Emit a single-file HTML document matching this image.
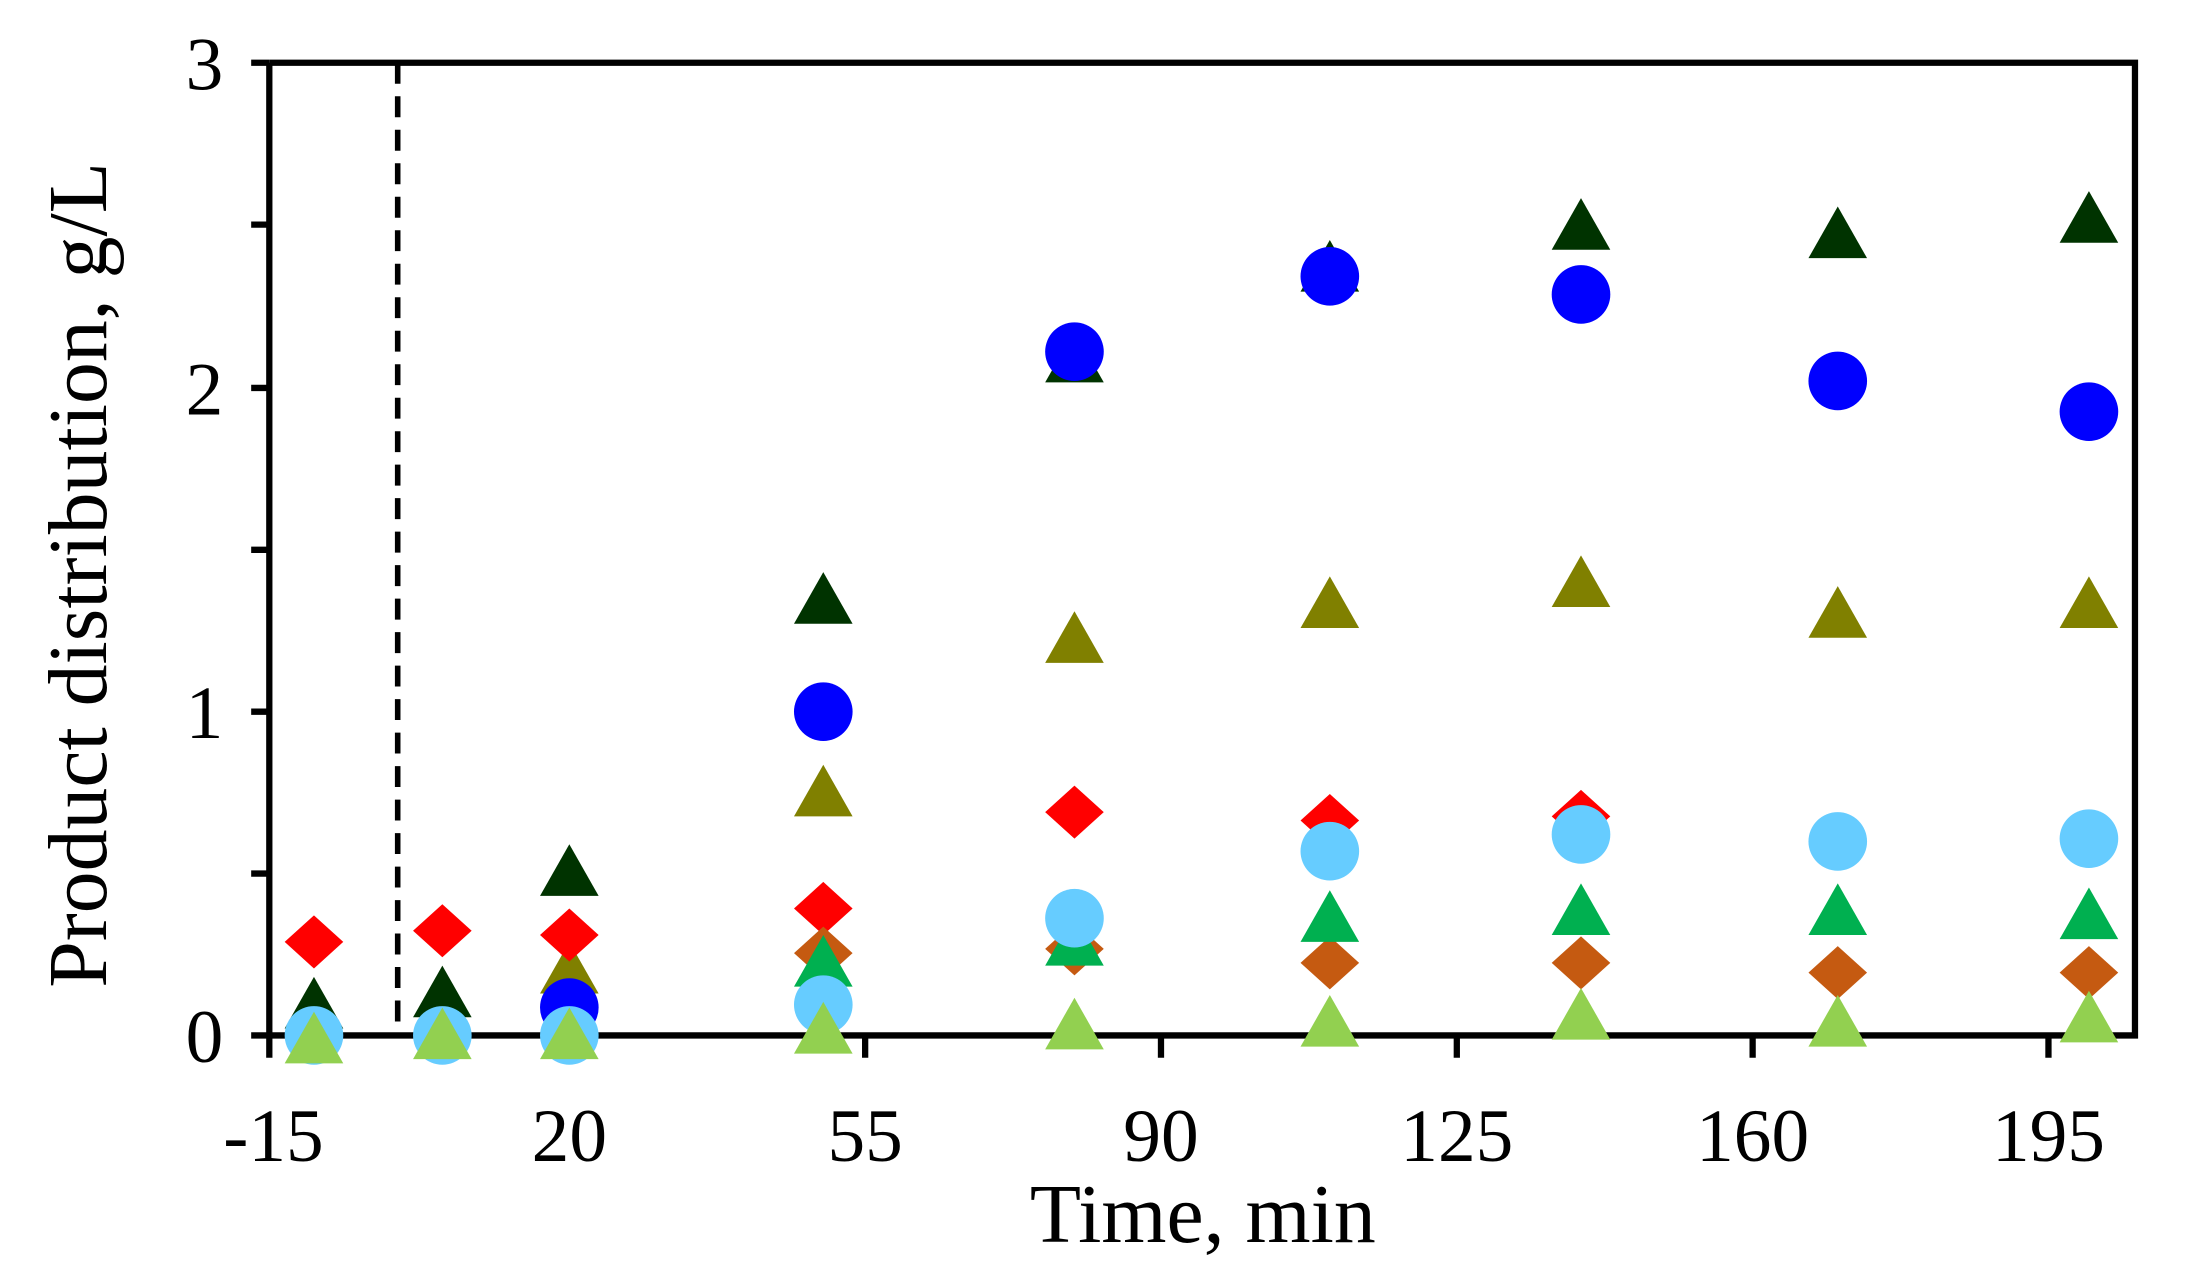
<!DOCTYPE html>
<html><head><meta charset="utf-8"><style>html,body{margin:0;padding:0;background:#fff}svg{display:block}</style></head>
<body>
<svg width="2188" height="1282" viewBox="0 0 1568 918.7" preserveAspectRatio="none" xmlns="http://www.w3.org/2000/svg">
<defs>
<path id="t" d="M0,-20 L21,17 L-21,17Z"/>
<path id="d" d="M0,-19 L21,0 L0,19 L-21,0Z"/>
<circle id="c" cx="0" cy="0" r="21"/>
</defs>
<rect width="1568" height="918.7" fill="#fff"/>
<g stroke="#000" stroke-width="4.5" fill="none">
<path d="M193,45 H1530 V742 H180"/>
<path d="M193,45 V758"/>
<path d="M180,45 H193 M180,161 H193 M180,278 H193 M180,394 H193 M180,510 H193 M180,626 H193"/>
<path d="M408,742 V758 M620,742 V758 M832,742 V758 M1044,742 V758 M1256,742 V758 M1468,742 V758"/>
</g>
<path d="M285,45 V742" stroke="#000" stroke-width="4" stroke-dasharray="15,9"/>
<g font-family="'Liberation Serif',serif" font-size="54" fill="#000">
<g text-anchor="end">
<text x="160" y="64">3</text><text x="160" y="297">2</text><text x="160" y="529">1</text><text x="160" y="761">0</text>
</g>
<g text-anchor="middle">
<text x="196" y="832">-15</text><text x="408" y="832">20</text><text x="620" y="832">55</text><text x="832" y="832">90</text><text x="1044" y="832">125</text><text x="1256" y="832">160</text><text x="1468" y="832">195</text>
<text x="862" y="890" font-size="60">Time, min</text>
<text transform="translate(76,412) rotate(-90)" font-size="60">Product distribution, g/L</text>
</g>
</g>
<g fill="#003300">
<use href="#t" x="225" y="720"/><use href="#t" x="317" y="712"/><use href="#t" x="408" y="625"/><use href="#t" x="590" y="430"/><use href="#t" x="770" y="257"/><use href="#t" x="953" y="192"/><use href="#t" x="1133" y="162"/><use href="#t" x="1317" y="168"/><use href="#t" x="1497" y="157"/>
</g>
<g fill="#808000">
<use href="#t" x="408" y="695"/><use href="#t" x="590" y="568"/><use href="#t" x="770" y="458"/><use href="#t" x="953" y="433"/><use href="#t" x="1133" y="418"/><use href="#t" x="1317" y="440"/><use href="#t" x="1497" y="433"/>
</g>
<g fill="#ff0000">
<use href="#d" x="225" y="675"/><use href="#d" x="317" y="667"/><use href="#d" x="408" y="670"/><use href="#d" x="590" y="651"/><use href="#d" x="770" y="582"/><use href="#d" x="953" y="588"/><use href="#d" x="1133" y="585"/>
</g>
<g fill="#c55a11">
<use href="#d" x="590" y="683"/><use href="#d" x="770" y="680"/><use href="#d" x="953" y="690"/><use href="#d" x="1133" y="690"/><use href="#d" x="1317" y="697"/><use href="#d" x="1497" y="697"/>
</g>
<g fill="#00b050">
<use href="#t" x="590" y="690"/><use href="#t" x="770" y="675"/><use href="#t" x="953" y="658"/><use href="#t" x="1133" y="653"/><use href="#t" x="1317" y="653"/><use href="#t" x="1497" y="656"/>
</g>
<g fill="#0000ff">
<use href="#c" x="408" y="722"/><use href="#c" x="590" y="510"/><use href="#c" x="770" y="252"/><use href="#c" x="953" y="198"/><use href="#c" x="1133" y="211"/><use href="#c" x="1317" y="273"/><use href="#c" x="1497" y="295"/>
</g>
<g fill="#66ccff">
<use href="#c" x="225" y="742"/><use href="#c" x="317" y="742"/><use href="#c" x="408" y="742"/><use href="#c" x="590" y="720"/><use href="#c" x="770" y="658"/><use href="#c" x="953" y="610"/><use href="#c" x="1133" y="598"/><use href="#c" x="1317" y="603"/><use href="#c" x="1497" y="601"/>
</g>
<g fill="#92d050">
<use href="#t" x="225" y="745"/><use href="#t" x="317" y="742"/><use href="#t" x="408" y="742"/><use href="#t" x="590" y="738"/><use href="#t" x="770" y="735"/><use href="#t" x="953" y="733"/><use href="#t" x="1133" y="728"/><use href="#t" x="1317" y="733"/><use href="#t" x="1497" y="730"/>
</g>
</svg>
</body></html>
